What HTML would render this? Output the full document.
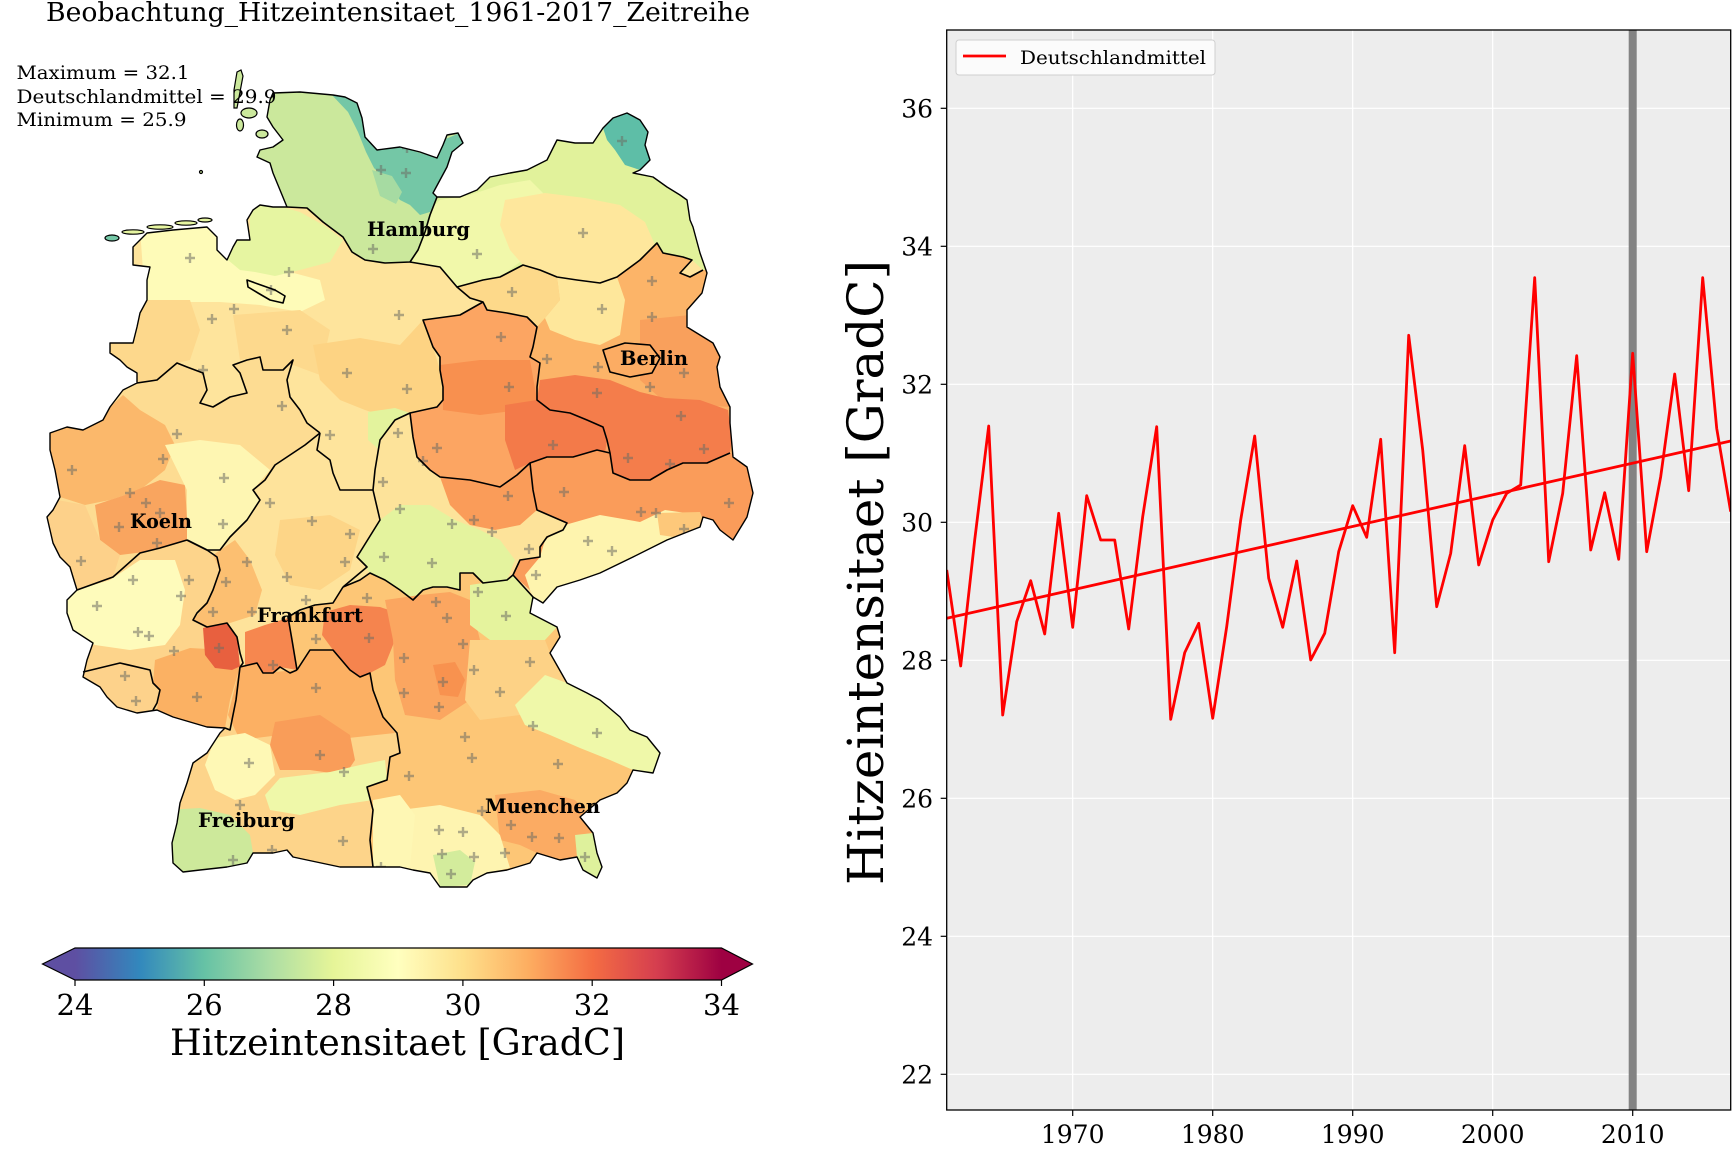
<!DOCTYPE html>
<html><head><meta charset="utf-8"><style>html,body{margin:0;padding:0;background:#fff}svg{display:block}</style></head>
<body>
<svg width="1734" height="1149" viewBox="0 0 1734 1149" xmlns="http://www.w3.org/2000/svg" font-family="'DejaVu Serif','Liberation Serif',serif">
<defs>
<clipPath id="de"><path d="M270,100 L273,93 300,92 333,95 345,97 357,103 362,118 365,137 377,150 400,147 420,152 437,158 443,145 447,135 458,133 463,143 452,152 447,167 440,180 433,193 437,197 460,197 477,190 490,177 510,173 527,170 547,160 557,140 575,143 593,143 603,128 613,118 627,113 640,120 648,132 645,145 650,160 640,170 633,173 653,177 667,187 680,195 687,200 690,220 693,227 700,253 707,273 702,293 687,310 687,327 700,335 713,343 720,357 717,367 720,387 730,407 730,423 733,457 747,467 753,493 747,517 733,540 720,530 713,520 703,517 700,527 667,540 633,557 600,573 580,580 557,587 543,603 533,597 530,613 557,627 560,637 550,653 567,683 587,693 600,700 620,717 630,730 647,737 660,753 653,773 633,770 627,783 617,793 600,800 580,817 593,833 597,853 602,867 597,878 583,870 577,857 560,860 537,853 530,863 507,870 487,873 473,880 467,887 440,887 430,873 413,870 400,867 373,867 340,867 307,860 293,857 287,850 273,853 253,853 247,863 227,867 200,870 183,872 173,863 172,843 177,823 180,803 187,783 193,763 207,753 220,733 225,728 207,727 173,717 157,710 137,713 117,707 107,697 100,687 83,677 87,660 93,643 73,630 67,613 67,600 77,590 73,577 70,567 60,557 53,543 50,530 47,517 53,510 60,497 55,470 50,450 50,433 67,427 83,430 103,420 110,407 123,390 137,383 137,373 127,367 120,360 110,353 110,343 133,343 137,327 140,313 147,300 147,280 150,267 133,265 133,247 140,240 147,233 173,230 207,227 217,237 217,250 227,260 233,247 237,240 250,240 247,220 253,210 260,205 273,207 287,207 280,190 273,173 270,163 257,157 260,150 273,147 283,140 273,127 267,117 Z"/></clipPath>
<clipPath id="plot"><rect x="946.7" y="30" width="784" height="1080"/></clipPath>
<linearGradient id="cb" gradientUnits="userSpaceOnUse" x1="75" y1="0" x2="721.5" y2="0">
<stop offset="0" stop-color="#5e4fa2"/><stop offset="0.1" stop-color="#3288bd"/><stop offset="0.2" stop-color="#66c2a5"/><stop offset="0.3" stop-color="#abdda4"/><stop offset="0.4" stop-color="#e6f598"/><stop offset="0.5" stop-color="#ffffbf"/><stop offset="0.6" stop-color="#fee08b"/><stop offset="0.7" stop-color="#fdae61"/><stop offset="0.8" stop-color="#f46d43"/><stop offset="0.9" stop-color="#d53e4f"/><stop offset="1" stop-color="#9e0142"/>
</linearGradient>
</defs>
<rect x="0" y="0" width="1734" height="1149" fill="#fff"/>

<!-- ===== LEFT: MAP ===== -->
<text x="46" y="21" font-size="26" textLength="704" lengthAdjust="spacingAndGlyphs">Beobachtung_Hitzeintensitaet_1961-2017_Zeitreihe</text>

<g clip-path="url(#de)">
<rect x="0" y="60" width="780" height="850" fill="#fee49c"/>
<!-- MV -->
<polygon fill="#e1f29b" points="437,197 445,170 470,140 720,90 740,270 703,270 692,260 683,257 663,253 657,243 640,260 617,277 600,283 577,280 557,277 540,270 523,265 500,277 483,280 457,287 440,267 410,262 418,250 425,232 430,215"/>
<polygon fill="#f1f8aa" points="420,220 440,200 470,195 500,185 530,180 545,195 540,235 520,262 500,277 483,280 457,287 440,267 410,262"/>
<polygon fill="#fee79c" points="505,200 545,193 585,198 620,205 645,222 655,245 640,260 617,277 600,283 577,280 557,277 540,270 523,265 510,250 500,225"/>
<polygon fill="#5ebea7" points="603,128 613,118 627,113 640,120 648,132 645,145 650,160 640,170 625,165 615,150 607,140"/>
<!-- SH -->
<polygon fill="#cbe89c" points="240,60 480,60 470,150 452,155 445,170 437,197 430,215 425,232 418,250 410,262 385,263 365,260 352,252 343,237 323,222 307,208 287,207 270,200 240,190"/>
<polygon fill="#74c7a6" points="330,93 357,100 362,118 365,137 377,150 400,147 437,158 443,140 460,133 466,145 452,155 445,170 437,195 430,212 420,215 410,205 400,200 392,190 384,178 374,168 366,152 358,132 348,112"/>
<polygon fill="#a6dba2" points="372,170 392,176 402,192 396,204 380,196"/>
<!-- Lower Saxony -->
<polygon fill="#fefbb8" points="140,228 212,226 222,250 245,268 290,272 320,280 325,300 300,312 260,305 220,302 180,302 145,300"/>
<polygon fill="#e6f5a1" points="215,225 233,238 250,238 250,207 275,205 300,212 325,226 343,240 330,262 300,270 275,276 255,272 240,270 222,255"/>
<polygon fill="#fdd88c" points="137,300 190,300 200,330 190,360 177,363 157,380 137,383 110,353 110,343 133,343"/>
<polygon fill="#fdd98d" points="233,315 300,310 330,330 320,375 293,365 283,370 263,370 260,357 240,360"/>
<polygon fill="#fdd383" points="313,345 360,338 400,345 423,320 433,347 440,370 443,400 437,407 410,413 390,418 365,410 340,400 320,380"/>
<polygon fill="#e3f39d" points="368,412 395,408 410,413 413,437 405,452 385,455 368,440"/>
<!-- Brandenburg -->
<polygon fill="#fcb468" points="457,287 483,280 500,277 523,265 540,270 557,277 577,280 600,283 617,277 640,260 657,243 663,253 683,257 692,260 680,273 690,277 703,270 760,270 760,460 730,453 707,463 683,463 667,470 650,480 630,480 613,473 610,453 607,440 603,427 587,420 570,413 550,410 537,400 537,387 540,363 530,357 533,347 537,327 527,317 507,313 487,310 483,302 470,298"/>
<polygon fill="#fdd98a" points="457,287 483,280 500,277 523,265 540,270 557,277 560,300 545,318 537,327 527,317 507,313 487,310 483,302 470,298"/>
<polygon fill="#fee79b" points="557,277 577,280 600,283 617,277 625,300 620,335 600,345 575,340 550,330 545,318 560,300"/>
<polygon fill="#f9a05c" points="640,320 690,315 713,343 720,357 717,367 720,387 730,407 700,405 660,398 640,380"/>
<polygon fill="#f47d4b" points="540,380 575,375 610,380 640,392 665,398 700,400 728,410 732,440 730,453 707,463 683,463 667,470 650,480 630,480 613,473 610,453 607,440 603,427 587,420 570,413 550,410 537,400"/>
<polygon fill="#fcac63" points="603,350 625,343 650,345 660,358 652,373 630,377 610,372"/>
<!-- Sachsen-Anhalt -->
<polygon fill="#fca562" points="483,302 487,310 507,313 527,317 537,327 533,347 530,357 540,363 537,387 537,400 550,410 570,413 587,420 603,427 607,440 610,453 597,450 573,457 547,457 530,463 517,475 500,487 470,480 440,477 430,470 417,457 413,437 410,413 437,407 443,400 443,387 440,370 440,357 433,347 423,320 460,315"/>
<polygon fill="#f8904f" points="440,365 480,360 530,360 537,400 520,410 480,415 443,410 443,387"/>
<polygon fill="#f37a49" points="505,405 537,400 550,410 570,413 587,420 603,427 607,440 605,453 573,457 547,457 530,463 515,470 505,440"/>
<!-- Saxony -->
<polygon fill="#fa9c5a" points="530,463 547,457 573,457 597,450 610,453 613,473 630,480 650,480 667,470 683,463 707,463 730,453 760,460 760,560 600,600 533,597 530,590 513,575 520,560 540,557 540,547 547,537 563,530 567,523 537,510 533,490"/>
<polygon fill="#fef4ae" points="545,540 565,525 600,515 640,522 665,510 700,515 700,527 667,540 633,557 600,573 580,580 557,587 543,603 533,597 530,590 525,575 540,557"/>
<polygon fill="#fdc87a" points="657,513 700,512 705,525 680,538 660,535"/>
<!-- Thueringen -->
<polygon fill="#fde39a" points="380,440 395,420 410,413 413,437 417,457 430,470 440,477 470,480 500,487 517,475 530,463 533,490 537,510 567,523 563,530 547,537 540,547 540,557 520,560 513,575 507,580 483,583 473,573 460,573 460,590 447,587 433,587 423,590 413,600 400,590 385,580 370,573 360,580 343,587 367,567 357,557 380,520 373,490 375,470"/>
<polygon fill="#fa9c59" points="440,477 470,480 500,487 517,475 530,463 533,490 537,510 520,525 495,530 470,525 450,505"/>
<polygon fill="#e4f39e" points="357,557 380,520 400,505 430,505 455,520 480,530 500,540 515,560 507,580 483,583 473,573 460,573 460,590 447,587 433,587 423,590 413,600 400,590 385,580 370,573"/>
<!-- NRW -->
<polygon fill="#fddc92" points="137,383 157,380 177,363 187,367 203,373 207,390 200,403 213,407 230,397 247,393 240,373 233,365 247,360 260,357 263,370 283,370 293,360 287,380 290,397 300,410 307,423 320,433 305,445 290,455 275,465 265,480 253,490 260,500 247,520 230,537 220,550 207,550 187,540 140,553 113,577 77,590 40,590 40,420 123,390"/>
<polygon fill="#fbb86b" points="40,433 67,427 83,430 103,420 110,407 123,395 140,410 165,425 175,445 165,470 140,490 110,500 85,505 60,497 40,480"/>
<polygon fill="#f9a55f" points="95,505 125,495 160,480 185,485 187,520 187,540 160,550 120,555 100,540"/>
<polygon fill="#fdd18a" points="40,497 85,505 100,540 120,555 113,577 77,590 40,590"/>
<polygon fill="#fef6b2" points="165,445 200,440 240,445 270,470 253,490 260,500 247,520 230,537 220,550 207,550 187,540 187,490"/>
<!-- RLP / Saarland -->
<polygon fill="#fdd48b" points="77,590 113,577 140,553 187,540 207,550 217,557 220,570 213,590 207,603 197,613 193,620 207,627 227,623 237,637 240,667 235,700 230,730 225,728 207,727 173,717 157,710 153,710 157,703 160,690 153,683 150,670 120,663 83,672 40,672 40,590"/>
<polygon fill="#fefbbb" points="60,595 110,580 140,560 175,560 185,590 180,625 165,645 130,650 95,645 60,630"/>
<polygon fill="#fbb163" points="155,660 190,648 225,650 240,665 235,700 230,730 207,727 173,717 157,710 160,690 153,683"/>
<polygon fill="#e8603f" points="203,628 227,622 237,637 240,653 243,665 232,670 215,668 205,655"/>
<polygon fill="#fdd28b" points="83,672 120,663 150,670 153,683 160,690 157,703 153,710 137,713 117,707 107,697 100,687 60,677"/>
<!-- Hessen -->
<polygon fill="#fee39b" points="320,433 317,450 330,460 333,473 340,490 373,490 380,520 357,557 367,567 343,587 333,603 315,605 288,617 292,640 297,670 290,673 280,667 273,673 263,673 257,663 240,667 237,637 227,623 207,627 193,620 197,613 207,603 213,590 220,570 217,557 207,550 220,550 230,537 247,520 260,500 253,490 265,480 275,465 290,455 305,445"/>
<polygon fill="#fcbf71" points="213,555 235,540 250,560 262,590 255,615 230,623 207,627 193,620 207,603 213,590 220,570"/>
<polygon fill="#fdd587" points="280,520 330,515 360,530 350,570 320,590 290,585 275,555"/>
<polygon fill="#f6874f" points="245,632 265,625 288,618 292,640 297,670 290,673 280,667 273,673 263,673 257,663 245,665"/>
<!-- BaWue -->
<polygon fill="#fdd48a" points="225,728 230,700 240,667 257,663 263,673 273,673 280,667 297,670 310,650 333,650 350,670 360,677 370,673 373,690 383,717 397,733 400,753 390,757 387,780 367,787 373,810 370,840 373,870 160,880 160,728"/>
<polygon fill="#fcb063" points="228,715 240,667 257,663 263,673 297,670 310,650 333,650 350,670 373,673 383,717 395,733 330,740 280,735 240,740"/>
<polygon fill="#f99d59" points="275,722 320,715 350,735 355,760 345,775 310,770 280,770 270,745"/>
<polygon fill="#fef8b5" points="215,738 245,733 270,745 275,775 255,795 235,800 215,790 205,765"/>
<polygon fill="#eff8a9" points="280,778 330,772 360,765 385,760 387,780 367,787 373,800 340,805 300,815 270,810 265,795"/>
<polygon fill="#cde99b" points="165,810 200,808 230,815 250,835 253,853 247,863 227,867 200,870 183,872 165,870"/>
<!-- Bavaria -->
<polygon fill="#fdc676" points="297,670 310,650 333,650 350,670 360,677 370,673 373,690 383,717 397,733 400,753 390,757 387,780 367,787 373,810 370,840 373,867 400,867 413,870 430,873 440,887 467,887 473,880 487,873 507,870 530,863 537,853 560,860 577,857 583,870 597,878 620,880 700,760 620,700 560,630 533,597 513,575 507,580 483,583 473,573 460,573 460,590 447,587 433,587 423,590 413,600 400,590 385,580 370,573 360,580 343,587 333,603 315,605 288,617 292,640"/>
<polygon fill="#f5844e" points="325,612 350,605 380,607 395,612 395,640 385,665 370,673 360,677 350,670 333,650 322,635"/>
<polygon fill="#fba660" points="385,600 420,595 450,592 470,600 480,640 470,700 440,720 405,715 395,680 393,640"/>
<polygon fill="#e5f39d" points="470,585 483,583 507,580 513,575 533,597 530,613 557,627 545,640 515,640 490,640 470,625"/>
<polygon fill="#fdd286" points="470,640 545,640 550,653 567,683 540,700 520,715 480,720 465,700"/>
<polygon fill="#f8924f" points="433,665 455,662 465,680 458,697 440,695"/>
<polygon fill="#eff8a9" points="545,675 567,683 587,693 600,700 620,717 630,730 647,737 660,753 653,773 633,770 610,760 580,748 550,735 525,725 515,705 530,690"/>
<polygon fill="#fbab63" points="495,795 540,790 575,800 590,815 593,833 597,853 580,860 560,860 537,853 520,845 500,840"/>
<polygon fill="#fef4b0" points="400,810 440,805 480,815 500,835 510,868 487,873 473,880 467,887 440,887 430,873 413,870 400,867"/>
<polygon fill="#d3ec9c" points="433,855 460,850 475,862 470,885 440,887"/>
<polygon fill="#def19c" points="575,835 593,833 597,853 602,867 597,878 583,870 577,857"/>
<polygon fill="#fef7b4" points="373,800 400,795 415,815 410,867 373,867"/>
<!-- crosses -->
<path fill="none" stroke="#6e6e64" stroke-opacity="0.55" stroke-width="2.4" d="M185,258h10M190,253v10M284,272h10M289,267v10M266,290h10M271,285v10M229,309h10M234,304v10M207,319h10M212,314v10M282,330h10M287,325v10M394,315h10M399,310v10M342,373h10M347,368v10M402,389h10M407,384v10M198,370h10M203,365v10M277,406h10M282,401v10M325,435h10M330,430v10M393,433h10M398,428v10M172,434h10M177,429v10M158,459h10M163,454v10M67,470h10M72,465v10M219,478h10M224,473v10M125,493h10M130,488v10M378,482h10M383,477v10M402,148h10M407,143v10M376,170h10M381,165v10M401,173h10M406,168v10M368,249h10M373,244v10M578,233h10M583,228v10M472,254h10M477,249v10M507,292h10M512,287v10M597,309h10M602,304v10M647,281h10M652,276v10M647,317h10M652,312v10M496,337h10M501,332v10M542,359h10M547,354v10M593,367h10M598,362v10M679,373h10M684,368v10M504,387h10M509,382v10M592,393h10M597,388v10M645,387h10M650,382v10M676,416h10M681,411v10M699,449h10M704,444v10M548,445h10M553,440v10M623,458h10M628,453v10M665,464h10M670,459v10M432,448h10M437,443v10M418,461h10M423,456v10M617,141h10M622,136v10M76,561h10M81,556v10M114,527h10M119,522v10M152,543h10M157,538v10M141,503h10M146,498v10M155,513h10M160,508v10M218,524h10M223,519v10M265,503h10M270,498v10M307,521h10M312,516v10M345,534h10M350,529v10M395,509h10M400,504v10M379,557h10M384,552v10M340,562h10M345,557v10M282,577h10M287,572v10M242,562h10M247,557v10M221,582h10M226,577v10M184,580h10M189,575v10M128,580h10M133,575v10M176,596h10M181,591v10M208,612h10M213,607v10M247,612h10M252,607v10M301,600h10M306,595v10M362,598h10M367,593v10M92,606h10M97,601v10M133,632h10M138,627v10M144,636h10M149,631v10M169,651h10M174,646v10M214,648h10M219,643v10M268,665h10M273,660v10M311,639h10M316,634v10M364,638h10M369,633v10M399,658h10M404,653v10M120,676h10M125,671v10M192,697h10M197,692v10M131,701h10M136,696v10M311,688h10M316,683v10M399,693h10M404,688v10M244,763h10M249,758v10M315,755h10M320,750v10M339,772h10M344,767v10M404,776h10M409,771v10M235,805h10M240,800v10M338,841h10M343,836v10M376,867h10M381,862v10M228,860h10M233,855v10M267,850h10M272,845v10M503,496h10M508,491v10M559,492h10M564,487v10M724,503h10M729,498v10M636,512h10M641,507v10M651,513h10M656,508v10M469,520h10M474,515v10M447,524h10M452,519v10M487,532h10M492,527v10M583,541h10M588,536v10M607,551h10M612,546v10M679,529h10M684,524v10M524,549h10M529,544v10M427,563h10M432,558v10M531,575h10M536,570v10M473,592h10M478,587v10M431,602h10M436,597v10M501,616h10M506,611v10M442,618h10M447,613v10M458,644h10M463,639v10M469,670h10M474,665v10M525,662h10M530,657v10M438,682h10M443,677v10M495,692h10M500,687v10M434,707h10M439,702v10M528,726h10M533,721v10M592,733h10M597,728v10M460,737h10M465,732v10M467,758h10M472,753v10M553,764h10M558,759v10M477,811h10M482,806v10M434,830h10M439,825v10M458,832h10M463,827v10M506,825h10M511,820v10M527,837h10M532,832v10M554,838h10M559,833v10M437,854h10M442,849v10M469,857h10M474,852v10M500,853h10M505,848v10M580,857h10M585,852v10M446,874h10M451,869v10"/>
</g>

<!-- state borders -->
<g fill="none" stroke="#000" stroke-width="1.6" stroke-linejoin="round">
<polyline points="287,207 307,208 323,222 343,237 352,252 365,260 385,263 410,262 418,250 425,232 430,215 437,197"/>
<polygon points="247,280 258,284 275,290 285,296 283,303 270,300 258,293 248,287"/>
<polyline points="410,262 440,267 457,287 483,280 500,277 523,265 540,270 557,277 577,280 600,283 617,277 640,260 657,243 663,253 683,257 692,260 680,273 690,277 703,270"/>
<polyline points="457,287 470,298 483,302 487,310 507,313 527,317 537,327 533,347 530,357 540,363 537,387 537,400 550,410 570,413 587,420 603,427 607,440 610,453 613,473 630,480 650,480 667,470 683,463 707,463 730,453"/>
<polyline points="483,302 460,315 423,320 433,347 440,357 440,370 443,387 443,400 437,407 410,413 413,437 417,457 430,470 440,477 470,480 500,487 517,475 530,463 547,457 573,457 597,450 610,453"/>
<polyline points="530,463 533,490 537,510 567,523 563,530 547,537 540,547 540,557 520,560 513,575 533,597"/>
<polyline points="513,575 507,580 483,583 473,573 460,573 460,590 447,587 433,587 423,590 413,600 400,590 385,580 370,573 360,580 343,587"/>
<polyline points="410,413 395,420 380,440 375,470 373,490 380,520 357,557 367,567 343,587"/>
<polyline points="137,383 157,380 177,363 187,367 203,373 207,390 200,403 213,407 230,397 247,393 240,373 233,365 247,360 260,357 263,370 283,370 293,360 287,380 290,397 300,410 307,423 320,433"/>
<polyline points="320,433 317,450 330,460 333,473 340,490 373,490"/>
<polyline points="320,433 305,445 290,455 275,465 265,480 253,490 260,500 247,520 230,537 220,550 207,550 187,540"/>
<polyline points="187,540 160,548 140,553 113,577 77,590"/>
<polyline points="187,540 207,550 217,557 220,570 213,590 207,603 197,613 193,620 207,627 227,623 237,637 240,653 243,663 240,667"/>
<polyline points="240,667 236,700 230,730 225,728"/>
<polyline points="240,667 257,663 263,673 273,673 280,667 290,673 297,670"/>
<polyline points="343,587 333,603 315,605 300,610 288,617 292,640 297,670"/>
<polyline points="297,670 310,650 333,650 350,670 360,677 370,673 373,690 383,717 397,733 400,753 390,757 387,780 367,787 373,810 370,840 373,867"/>
<polyline points="83,672 120,663 150,670 153,683 160,690 157,703 153,710"/>
<polygon points="603,350 625,343 650,345 660,358 652,373 630,377 610,372"/>
</g>
<!-- outline -->
<path fill="none" stroke="#000" stroke-width="1.4" stroke-linejoin="round" d="M270,100 L273,93 300,92 333,95 345,97 357,103 362,118 365,137 377,150 400,147 420,152 437,158 443,145 447,135 458,133 463,143 452,152 447,167 440,180 433,193 437,197 460,197 477,190 490,177 510,173 527,170 547,160 557,140 575,143 593,143 603,128 613,118 627,113 640,120 648,132 645,145 650,160 640,170 633,173 653,177 667,187 680,195 687,200 690,220 693,227 700,253 707,273 702,293 687,310 687,327 700,335 713,343 720,357 717,367 720,387 730,407 730,423 733,457 747,467 753,493 747,517 733,540 720,530 713,520 703,517 700,527 667,540 633,557 600,573 580,580 557,587 543,603 533,597 530,613 557,627 560,637 550,653 567,683 587,693 600,700 620,717 630,730 647,737 660,753 653,773 633,770 627,783 617,793 600,800 580,817 593,833 597,853 602,867 597,878 583,870 577,857 560,860 537,853 530,863 507,870 487,873 473,880 467,887 440,887 430,873 413,870 400,867 373,867 340,867 307,860 293,857 287,850 273,853 253,853 247,863 227,867 200,870 183,872 173,863 172,843 177,823 180,803 187,783 193,763 207,753 220,733 225,728 207,727 173,717 157,710 137,713 117,707 107,697 100,687 83,677 87,660 93,643 73,630 67,613 67,600 77,590 73,577 70,567 60,557 53,543 50,530 47,517 53,510 60,497 55,470 50,450 50,433 67,427 83,430 103,420 110,407 123,390 137,383 137,373 127,367 120,360 110,353 110,343 133,343 137,327 140,313 147,300 147,280 150,267 133,265 133,247 140,240 147,233 173,230 207,227 217,237 217,250 227,260 233,247 237,240 250,240 247,220 253,210 260,205 273,207 287,207 280,190 273,173 270,163 257,157 260,150 273,147 283,140 273,127 267,117 Z"/>
<!-- islands -->
<g stroke="#000" stroke-width="1.2" fill="#cbe89c">
<path d="M237,72 L241,70 243,76 240,92 237,108 234,108 234,90 Z"/>
<ellipse cx="249" cy="113" rx="8" ry="5"/>
<ellipse cx="240" cy="125" rx="3.5" ry="6"/>
<ellipse cx="262" cy="134" rx="6" ry="4"/>
<circle cx="201" cy="172" r="1.5"/>
<ellipse cx="112" cy="238" rx="7" ry="3" fill="#74c7a6"/>
<ellipse cx="133" cy="232" rx="11" ry="2.2" fill="#e6f5a1"/>
<ellipse cx="160" cy="227" rx="13" ry="2.2" fill="#e6f5a1"/>
<ellipse cx="186" cy="223" rx="11" ry="2.2" fill="#e6f5a1"/>
<ellipse cx="205" cy="220" rx="7" ry="2" fill="#e6f5a1"/>
</g>
<!-- stats text -->
<g font-size="19" fill="#000">
<text x="16.5" y="79" textLength="173" lengthAdjust="spacingAndGlyphs">Maximum = 32.1</text>
<text x="16.5" y="103" textLength="260" lengthAdjust="spacingAndGlyphs">Deutschlandmittel = 29.9</text>
<text x="16.5" y="126" textLength="170" lengthAdjust="spacingAndGlyphs">Minimum = 25.9</text>
</g>
<!-- city labels -->
<g font-size="20" font-weight="bold" fill="#000">
<text x="367" y="236" textLength="103" lengthAdjust="spacingAndGlyphs">Hamburg</text>
<text x="620" y="365" textLength="68" lengthAdjust="spacingAndGlyphs">Berlin</text>
<text x="130" y="528" textLength="62" lengthAdjust="spacingAndGlyphs">Koeln</text>
<text x="257" y="622" textLength="106" lengthAdjust="spacingAndGlyphs">Frankfurt</text>
<text x="198" y="827" textLength="97" lengthAdjust="spacingAndGlyphs">Freiburg</text>
<text x="485" y="813" textLength="115" lengthAdjust="spacingAndGlyphs">Muenchen</text>
</g>

<!-- colorbar -->
<rect x="75" y="948" width="646.5" height="32" fill="url(#cb)"/>
<polygon points="75,948 42.5,964 75,980" fill="#5e4fa2"/>
<polygon points="721.5,948 752.5,964 721.5,980" fill="#9e0142"/>
<polygon points="75,948 721.5,948 752.5,964 721.5,980 75,980 42.5,964" fill="none" stroke="#000" stroke-width="1.2"/>
<g stroke="#000" stroke-width="1.2">
<line x1="75" y1="980" x2="75" y2="986"/><line x1="204.3" y1="980" x2="204.3" y2="986"/><line x1="333.6" y1="980" x2="333.6" y2="986"/><line x1="462.9" y1="980" x2="462.9" y2="986"/><line x1="592.2" y1="980" x2="592.2" y2="986"/><line x1="721.5" y1="980" x2="721.5" y2="986"/>
</g>
<g font-size="29" text-anchor="middle" fill="#000">
<text x="75" y="1015">24</text><text x="204.3" y="1015">26</text><text x="333.6" y="1015">28</text><text x="462.9" y="1015">30</text><text x="592.2" y="1015">32</text><text x="721.5" y="1015">34</text>
</g>
<text x="170" y="1055" font-size="36.6" textLength="455" lengthAdjust="spacingAndGlyphs">Hitzeintensitaet [GradC]</text>

<!-- ===== RIGHT: TIME SERIES ===== -->
<rect x="946.7" y="30" width="784" height="1080" fill="#ededed"/>
<g stroke="#fff" stroke-width="1.2">
<line x1="1072.7" y1="30" x2="1072.7" y2="1110"/><line x1="1212.7" y1="30" x2="1212.7" y2="1110"/><line x1="1352.7" y1="30" x2="1352.7" y2="1110"/><line x1="1492.7" y1="30" x2="1492.7" y2="1110"/><line x1="1632.7" y1="30" x2="1632.7" y2="1110"/>
<line x1="946.7" y1="108.3" x2="1730.7" y2="108.3"/><line x1="946.7" y1="246.3" x2="1730.7" y2="246.3"/><line x1="946.7" y1="384.3" x2="1730.7" y2="384.3"/><line x1="946.7" y1="522.3" x2="1730.7" y2="522.3"/><line x1="946.7" y1="660.3" x2="1730.7" y2="660.3"/><line x1="946.7" y1="798.3" x2="1730.7" y2="798.3"/><line x1="946.7" y1="936.3" x2="1730.7" y2="936.3"/><line x1="946.7" y1="1074.3" x2="1730.7" y2="1074.3"/>
</g>
<rect x="1628.7" y="30" width="8" height="1080" fill="#838383"/>
<g clip-path="url(#plot)" fill="none" stroke="#ff0000" stroke-width="2.8" stroke-linejoin="round">
<polyline points="946.7,570 960.7,666 974.7,540 988.7,426 1002.7,715 1016.7,621.7 1030.7,580.7 1044.7,634 1058.7,513.3 1072.7,627.3 1086.7,495.7 1100.7,540 1114.7,540 1128.7,629 1142.7,516.7 1156.7,426.7 1170.7,719.3 1184.7,652.7 1198.7,623.3 1212.7,718.3 1226.7,626.7 1240.7,520 1254.7,436 1268.7,578.3 1282.7,627.3 1296.7,561 1310.7,660 1324.7,633.3 1338.7,551.7 1352.7,505.7 1366.7,537.3 1380.7,439.3 1394.7,652.7 1408.7,335.3 1422.7,450 1436.7,606.7 1450.7,553.3 1464.7,445.7 1478.7,565 1492.7,520 1506.7,493.3 1520.7,485 1534.7,277.7 1548.7,561.7 1562.7,493.3 1576.7,355.7 1590.7,550 1604.7,492.7 1618.7,559.3 1632.7,353.3 1646.7,551.7 1660.7,476.7 1674.7,374 1688.7,490.7 1702.7,277.7 1716.7,428.3 1730.7,511.7"/>
<line x1="946.7" y1="618.3" x2="1730.7" y2="441"/>
</g>
<rect x="946.7" y="30" width="784" height="1080" fill="none" stroke="#000" stroke-width="1.3"/>
<!-- ticks -->
<g stroke="#000" stroke-width="1.2">
<line x1="940.7" y1="108.3" x2="946.7" y2="108.3"/><line x1="940.7" y1="246.3" x2="946.7" y2="246.3"/><line x1="940.7" y1="384.3" x2="946.7" y2="384.3"/><line x1="940.7" y1="522.3" x2="946.7" y2="522.3"/><line x1="940.7" y1="660.3" x2="946.7" y2="660.3"/><line x1="940.7" y1="798.3" x2="946.7" y2="798.3"/><line x1="940.7" y1="936.3" x2="946.7" y2="936.3"/><line x1="940.7" y1="1074.3" x2="946.7" y2="1074.3"/>
<line x1="1072.7" y1="1110" x2="1072.7" y2="1116"/><line x1="1212.7" y1="1110" x2="1212.7" y2="1116"/><line x1="1352.7" y1="1110" x2="1352.7" y2="1116"/><line x1="1492.7" y1="1110" x2="1492.7" y2="1116"/><line x1="1632.7" y1="1110" x2="1632.7" y2="1116"/>
</g>
<g font-size="25" text-anchor="end" fill="#000">
<text x="933" y="117.5">36</text><text x="933" y="255.5">34</text><text x="933" y="393.5">32</text><text x="933" y="531.5">30</text><text x="933" y="669.5">28</text><text x="933" y="807.5">26</text><text x="933" y="945.5">24</text><text x="933" y="1083.5">22</text>
</g>
<g font-size="25" text-anchor="middle" fill="#000">
<text x="1072.7" y="1143">1970</text><text x="1212.7" y="1143">1980</text><text x="1352.7" y="1143">1990</text><text x="1492.7" y="1143">2000</text><text x="1632.7" y="1143">2010</text>
</g>
<text transform="translate(883,572.5) rotate(-90)" text-anchor="middle" font-size="50" textLength="625" lengthAdjust="spacingAndGlyphs">Hitzeintensitaet [GradC]</text>
<!-- legend -->
<rect x="956" y="40" width="259" height="35" rx="3" ry="3" fill="#fbfbfb" stroke="#cfcfcf" stroke-width="1"/>
<line x1="963" y1="56" x2="1006" y2="56" stroke="#ff0000" stroke-width="2.8"/>
<text x="1020" y="64" font-size="19" textLength="186" lengthAdjust="spacingAndGlyphs">Deutschlandmittel</text>
</svg>
</body></html>
